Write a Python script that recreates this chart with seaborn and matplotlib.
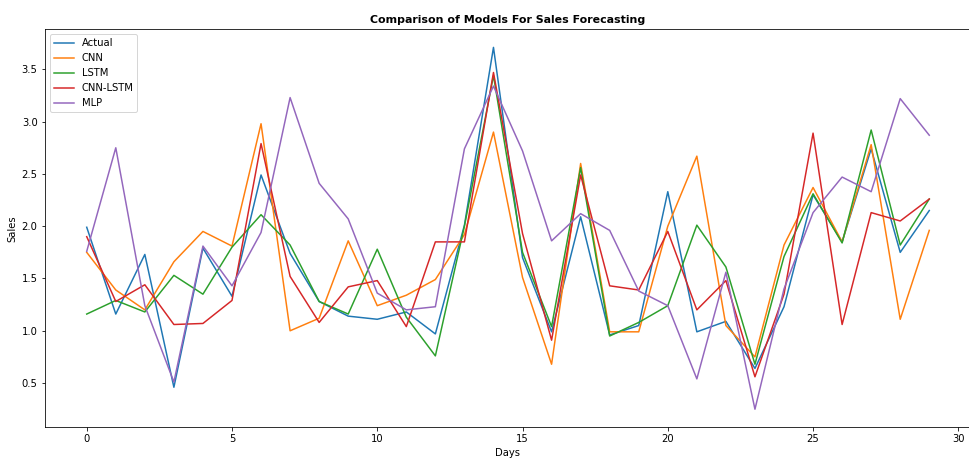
import numpy as np
import pandas as pd
import matplotlib
matplotlib.use("Agg")
import matplotlib.pyplot as plt
import seaborn as sns

# values (30 days)
days = list(range(30))
actual = [1.99, 1.16, 1.73, 0.46, 1.79, 1.33, 2.49, 1.74, 1.28, 1.14,
          1.11, 1.18, 0.97, 2.01, 3.71, 1.70, 0.99, 2.09, 0.96, 1.05,
          2.33, 0.99, 1.09, 0.64, 1.23, 2.30, 1.85, 2.74, 1.75, 2.15]
cnn = [1.75, 1.39, 1.20, 1.66, 1.95, 1.81, 2.98, 1.00, 1.12, 1.86,
       1.24, 1.34, 1.49, 1.92, 2.90, 1.51, 0.68, 2.60, 0.99, 0.99,
       2.00, 2.67, 1.05, 0.75, 1.82, 2.37, 1.85, 2.78, 1.11, 1.96]
lstm = [1.16, 1.29, 1.18, 1.53, 1.35, 1.80, 2.11, 1.82, 1.28, 1.16,
        1.78, 1.13, 0.76, 2.00, 3.44, 1.75, 1.04, 2.56, 0.95, 1.08,
        1.24, 2.01, 1.61, 0.68, 1.71, 2.31, 1.84, 2.92, 1.82, 2.26]
cnn_lstm = [1.90, 1.28, 1.44, 1.06, 1.07, 1.29, 2.79, 1.52, 1.08, 1.42,
            1.48, 1.04, 1.85, 1.85, 3.47, 1.93, 0.91, 2.49, 1.43, 1.39,
            1.95, 1.20, 1.48, 0.56, 1.35, 2.89, 1.06, 2.13, 2.05, 2.26]
mlp = [1.76, 2.75, 1.24, 0.51, 1.81, 1.43, 1.94, 3.23, 2.41, 2.07,
       1.36, 1.20, 1.23, 2.74, 3.34, 2.72, 1.86, 2.12, 1.96, 1.38,
       1.24, 0.54, 1.56, 0.25, 1.40, 2.13, 2.47, 2.33, 3.22, 2.87]
models = ['Actual', 'CNN', 'LSTM', 'CNN-LSTM', 'MLP']

# long-form table for seaborn
df = pd.DataFrame({
    'Days': days * 5,
    'Sales': actual + cnn + lstm + cnn_lstm + mlp,
    'Model': np.repeat(models, len(days)),
})

fig = plt.figure(figsize=(969 / 72, 463 / 72), dpi=72)
ax = fig.add_axes([44.6 / 969, 35.7 / 463, 926.8 / 969, 398 / 463])

sns.lineplot(data=df, x='Days', y='Sales', hue='Model', hue_order=models,
             palette=sns.color_palette('tab10', 5), linewidth=1.5, ax=ax)

ax.set_title('Comparison of Models For Sales Forecasting', fontweight='bold', fontsize=11)
ax.set_xlabel('Days')
ax.set_ylabel('Sales')
ax.legend(loc='upper left')

fig.savefig('out.png', dpi=72)
